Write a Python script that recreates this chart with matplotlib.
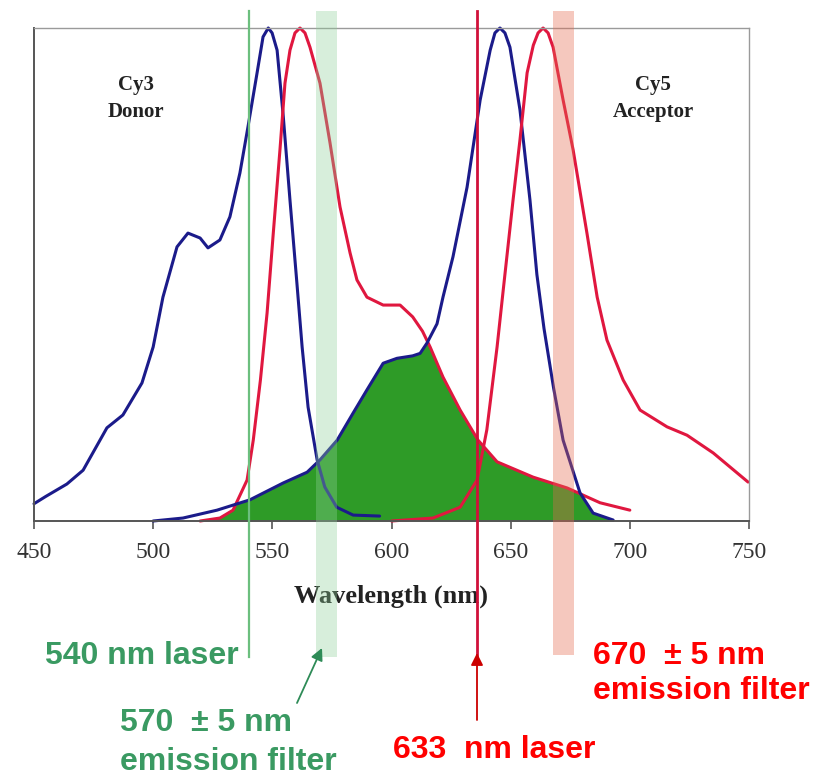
import numpy as np
import matplotlib
matplotlib.use("Agg")
import matplotlib.pyplot as plt
from matplotlib.patches import Rectangle

# ---------------- data (normalised intensity vs wavelength, nm) ----------------
cy3_abs_wl = [450, 455, 463.8, 470.6, 480.6, 487.3, 495.3, 500, 504.1, 510, 514.6, 519.7,
              523, 528, 532.2, 536.4, 539.8, 543.6, 546.1, 548.3, 549.9, 552, 554.6, 557.4,
              560.3, 562.5, 565, 568.8, 572, 577, 583.9, 595]
cy3_abs = [0.035, 0.05, 0.075, 0.103, 0.189, 0.215, 0.28, 0.353, 0.454, 0.556, 0.584, 0.574,
           0.554, 0.57, 0.617, 0.706, 0.80, 0.909, 0.982, 1.0, 0.99, 0.955, 0.82, 0.651,
           0.483, 0.353, 0.231, 0.124, 0.069, 0.028, 0.012, 0.01]

cy3_em_wl = [519.7, 528, 533.5, 539.4, 542, 545, 547.8, 550.4, 553.2, 555.3, 557.4, 559.5,
             561.6, 563.7, 565.8, 570, 574.2, 578.4, 582.6, 585.5, 589.7, 596.5, 603.6, 608.9,
             613, 616.2, 621.6, 628.8, 636.3, 644.3, 659.4, 673.7, 687.5, 700]
cy3_em = [0.0, 0.006, 0.022, 0.083, 0.164, 0.286, 0.422, 0.584, 0.753, 0.888, 0.955, 0.99,
          1.0, 0.99, 0.961, 0.888, 0.767, 0.637, 0.544, 0.489, 0.454, 0.438, 0.438, 0.414,
          0.385, 0.353, 0.292, 0.225, 0.164, 0.12, 0.089, 0.067, 0.037, 0.022]

cy5_abs_wl = [500, 512.5, 526.8, 540.6, 554.5, 564.6, 570, 577.2, 583.9, 589.7, 596.5, 602.3,
              608.9, 612, 614.9, 619.1, 621.6, 625.8, 631.7, 637.2, 641.4, 643.4, 645.5, 647.6,
              649.7, 653.9, 658.1, 661, 664, 668, 672, 679.1, 684.6, 693]
cy5_abs = [0.0, 0.006, 0.022, 0.043, 0.077, 0.099, 0.124, 0.164, 0.219, 0.266, 0.32, 0.33,
           0.335, 0.34, 0.361, 0.40, 0.454, 0.536, 0.677, 0.854, 0.955, 0.99, 1.0, 0.99,
           0.961, 0.834, 0.651, 0.50, 0.39, 0.27, 0.164, 0.057, 0.016, 0.002]

cy5_em_wl = [600, 617.4, 628.8, 635.9, 640, 644.3, 646.8, 651, 653.9, 656.9, 659.5, 661.5,
             663.6, 665.7, 667.8, 672, 676.2, 682, 686.3, 690.4, 697.2, 704.3, 715.6, 724,
             735, 749.6]
cy5_em = [0.0, 0.006, 0.028, 0.083, 0.185, 0.353, 0.465, 0.651, 0.773, 0.909, 0.965, 0.99,
          1.0, 0.99, 0.961, 0.854, 0.753, 0.584, 0.454, 0.367, 0.286, 0.225, 0.191, 0.174,
          0.138, 0.079]

x_ticks = [450, 500, 550, 600, 650, 700, 750]

# laser lines and filter bands (positions as drawn)
laser_green = 540
laser_red = 636
band_green = (568.5, 577.3)
band_red = (667.8, 676.6)

# ---------------- figure ----------------
W, H = 814, 776
fig = plt.figure(figsize=(W / 100, H / 100), dpi=100)
ax = fig.add_axes([34 / W, 1 - 521 / H, (749 - 34) / W, (521 - 28) / H])
ax.set_xlim(450, 750)
ax.set_ylim(0, 1)

blue = "#1b1b8a"
red = "#e0173f"

# spectral overlap (green fill)
grid = np.linspace(500, 700, 1601)
a = np.interp(grid, cy5_abs_wl, cy5_abs, left=0, right=0)
e = np.interp(grid, cy3_em_wl, cy3_em, left=0, right=0)
ax.fill_between(grid, 0, np.minimum(a, e), color="#2e9b27", lw=0, zorder=1)

for wl, v, c in [(cy3_abs_wl, cy3_abs, blue), (cy3_em_wl, cy3_em, red),
                 (cy5_abs_wl, cy5_abs, blue), (cy5_em_wl, cy5_em, red)]:
    ax.plot(wl, v, color=c, lw=2.2, zorder=2, clip_on=False,
            solid_joinstyle="round", solid_capstyle="round")

# bands and laser lines extend beyond axes
y_top = (521 - 11) / 493
y_bot = (521 - 657) / 493
y_bot_r = (521 - 655) / 493
trans = ax.get_xaxis_transform()
ax.add_patch(Rectangle((band_green[0], y_bot), band_green[1] - band_green[0], y_top - y_bot,
                       transform=trans, color="#8fcf98", alpha=0.35, lw=0,
                       clip_on=False, zorder=3))
ax.add_patch(Rectangle((band_red[0], y_bot_r), band_red[1] - band_red[0], y_top - y_bot_r,
                       transform=trans, color="#e46a4f", alpha=0.37, lw=0,
                       clip_on=False, zorder=3))
ax.plot([laser_green, laser_green], [y_bot, y_top], transform=trans, color="#6cbf7e",
        lw=1.6, clip_on=False, zorder=4)
ax.plot([laser_red, laser_red], [y_bot, y_top], transform=trans, color="#d0103a",
        lw=2.0, clip_on=False, zorder=4)

# axes styling
for s in ["left", "bottom"]:
    ax.spines[s].set_color("#555555")
    ax.spines[s].set_linewidth(1.4)
for s in ["top", "right"]:
    ax.spines[s].set_color("#9a9a9a")
    ax.spines[s].set_linewidth(1.0)
ax.set_yticks([])
ax.set_xticks(x_ticks)
ax.tick_params(axis="x", direction="out", length=6, width=1.2, color="#555555",
               labelsize=17, labelcolor="#333333", pad=9)
for lab in ax.get_xticklabels():
    lab.set_fontfamily("Liberation Serif")
ax.set_xlabel("Wavelength (nm)", fontfamily="Liberation Serif", fontweight="bold",
              fontsize=19, color="#222222", labelpad=16)

# dye labels
serif_b = dict(fontfamily="Liberation Serif", fontweight="bold", fontsize=15,
               color="#222222", ha="center", va="center")
ax.text(492.8, 0.884, "Cy3", **serif_b)
ax.text(492.8, 0.83, "Donor", **serif_b)
ax.text(709.8, 0.884, "Cy5", **serif_b)
ax.text(709.8, 0.83, "Acceptor", **serif_b)

# annotations below
green_t = "#3a9a62"
red_t = "#ff0000"
sans = dict(fontfamily="Liberation Sans", fontweight="bold", fontsize=23)


def ftext(px, py, s, color, ha="left"):
    fig.text(px / W, 1 - py / H, s, color=color, ha=ha, va="center", **sans)


ftext(45, 656, "540 nm laser", green_t)
ftext(120, 723, "570  \u00b1 5 nm", green_t)
ftext(120, 762, "emission filter", green_t)
ftext(393, 750, "633  nm laser", red_t)
ftext(593, 656, "670  \u00b1 5 nm", red_t)
ftext(593, 691, "emission filter", red_t)

fig.add_artist(plt.Annotation("", xy=(322 / W, 1 - 648 / H), xytext=(297 / W, 1 - 703 / H),
                              xycoords="figure fraction", textcoords="figure fraction",
                              arrowprops=dict(arrowstyle="-|>", color="#2e8b57", lw=1.3,
                                              mutation_scale=18, shrinkA=0, shrinkB=0)))
fig.add_artist(plt.Annotation("", xy=(477 / W, 1 - 653 / H), xytext=(477 / W, 1 - 720 / H),
                              xycoords="figure fraction", textcoords="figure fraction",
                              arrowprops=dict(arrowstyle="-|>", color="#cc0000", lw=1.3,
                                              mutation_scale=18, shrinkA=0, shrinkB=0)))

fig.savefig("out.png", dpi=100)
